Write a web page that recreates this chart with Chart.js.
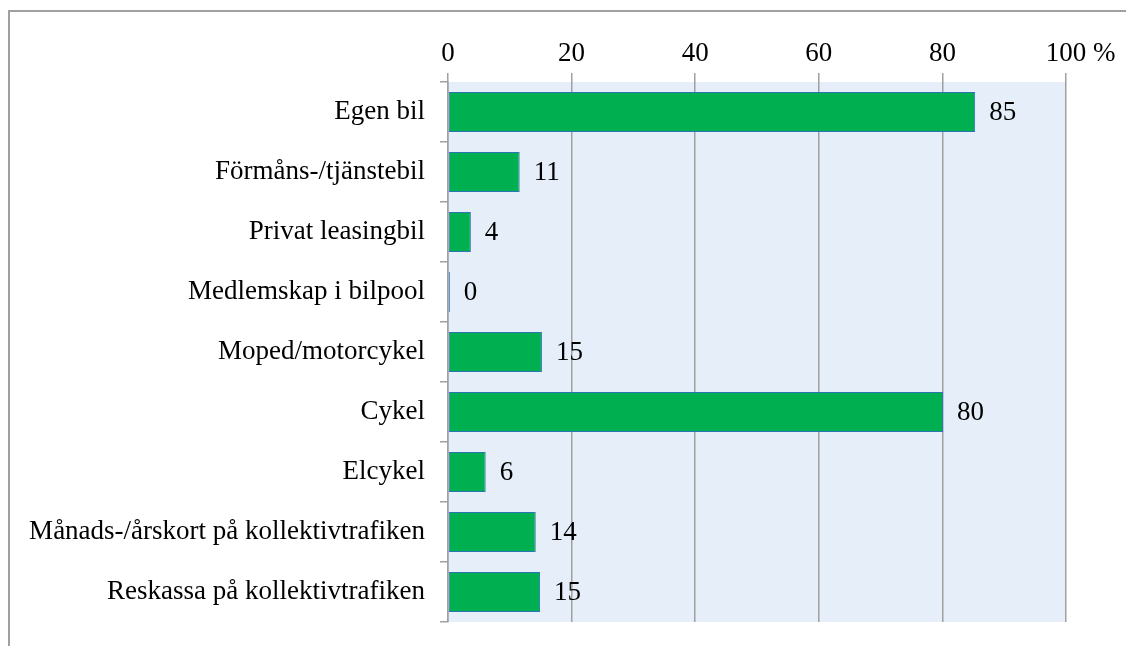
<!DOCTYPE html>
<html>
<head>
<meta charset="utf-8">
<script src="https://cdn.jsdelivr.net/npm/chart.js@4/dist/chart.umd.min.js"></script>
<style>
  html, body { margin: 0; padding: 0; background: #fff; }
  #wrap { position: relative; width: 1126px; height: 646px; }
  #frame { position: absolute; left: 8px; top: 10px; right: 0; bottom: 0;
           border-top: 2px solid #a0a0a0; border-left: 2px solid #a0a0a0; }
  canvas { position: absolute; left: 0; top: 0; }
</style>
</head>
<body>
<div id="wrap">
  <div id="frame"></div>
  <canvas id="chart" width="1126" height="646"></canvas>
</div>
<script>
const categories = [
  'Egen bil',
  'Förmåns-/tjänstebil',
  'Privat leasingbil',
  'Medlemskap i bilpool',
  'Moped/motorcykel',
  'Cykel',
  'Elcykel',
  'Månads-/årskort på kollektivtrafiken',
  'Reskassa på kollektivtrafiken'
];
// bar lengths
const shares = [85.3, 11.6, 3.7, 0.3, 15.2, 80.1, 6.1, 14.2, 14.9];
// printed labels
const shareLabels = ['85', '11', '4', '0', '15', '80', '6', '14', '15'];
const xTicks = [0, 20, 40, 60, 80, 100];

const FONT = "'Liberation Serif', 'Times New Roman', serif";
const FSIZE = 27;

const plotBg = {
  id: 'plotBg',
  beforeDraw(chart) {
    const {ctx, chartArea: a} = chart;
    ctx.save();
    ctx.fillStyle = '#e6eff9';
    ctx.fillRect(a.left, a.top, a.right - a.left, a.bottom - a.top);
    ctx.restore();
  }
};

const valueLabels = {
  id: 'valueLabels',
  afterDatasetsDraw(chart) {
    const ctx = chart.ctx;
    const meta = chart.getDatasetMeta(0);
    ctx.save();
    ctx.font = FSIZE + 'px ' + FONT;
    ctx.fillStyle = '#000';
    ctx.textAlign = 'left';
    ctx.textBaseline = 'middle';
    meta.data.forEach((bar, i) => {
      ctx.fillText(shareLabels[i], bar.x + 14, bar.y + 1);
    });
    // percent sign after the last tick
    const xs = chart.scales.x;
    const px = xs.getPixelForValue(100);
    const w = ctx.measureText('100').width;
    ctx.fillText(' %', px + w / 2, 54);
    ctx.restore();
  }
};

new Chart(document.getElementById('chart'), {
  type: 'bar',
  plugins: [plotBg, valueLabels],
  data: {
    labels: categories,
    datasets: [{
      data: shares,
      backgroundColor: '#00b050',
      borderColor: '#2e75b6',
      borderWidth: 1,
      borderSkipped: false,
      categoryPercentage: 1,
      barPercentage: 0.67
    }]
  },
  options: {
    indexAxis: 'y',
    responsive: false,
    animation: false,
    layout: { padding: { left: 0, right: 60, top: 0, bottom: 24 } },
    plugins: { legend: { display: false }, tooltip: { enabled: false } },
    scales: {
      x: {
        position: 'top',
        min: 0,
        max: 100,
        afterBuildTicks(scale) { scale.ticks = xTicks.map(v => ({value: v})); },
        afterFit(scale) { scale.height = 82; },
        grid: { color: '#a0a0a0', lineWidth: 1.5, tickLength: 9, drawOnChartArea: true },
        border: { display: false },
        ticks: {
          color: '#000',
          font: { family: FONT, size: FSIZE },
          padding: 3,
          maxRotation: 0,
          callback: v => String(v)
        }
      },
      y: {
        afterFit(scale) {
          scale.width = 448;
          scale.paddingTop = 0;
          scale.paddingBottom = 0;
        },
        grid: { color: '#a0a0a0', lineWidth: 1.5, tickLength: 8, drawOnChartArea: false, offset: true },
        border: { display: true, color: '#a0a0a0', width: 1.5 },
        ticks: {
          color: '#000',
          font: { family: FONT, size: FSIZE },
          padding: 15
        }
      }
    }
  }
});
</script>
</body>
</html>
